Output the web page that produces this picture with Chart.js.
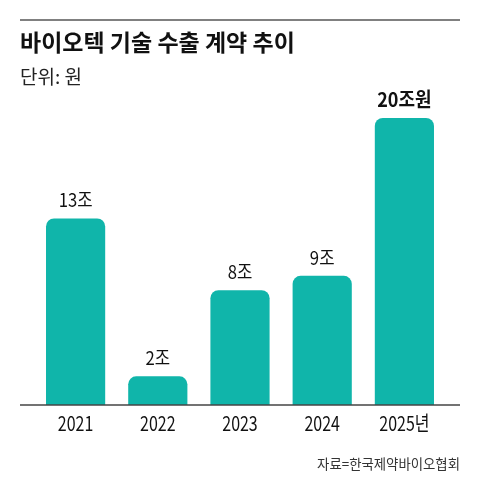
<!DOCTYPE html>
<html><head><meta charset="utf-8">
<script src="https://cdn.jsdelivr.net/npm/chart.js@4/dist/chart.umd.min.js"></script>
<style>html,body{margin:0;padding:0;background:#fff;}#wrap{width:480px;height:490px;position:relative;}</style>
</head><body><div id="wrap"><canvas id="c" width="480" height="490"></canvas></div>
<script>
const categories = ['2021', '2022', '2023', '2024', '2025년'];
const values = [13, 2, 8, 9, 20];
const valueLabels = ['13조', '2조', '8조', '9조', '20조원'];
const boldLabel = [false, false, false, false, true];
const titleText = '바이오텍 기술 수출 계약 추이';
const subtitleText = '단위: 원';
const sourceText = '자료=한국제약바이오협회';

const KR = "'Noto Sans CJK KR', 'Noto Sans', sans-serif";

function condensedText(ctx, text, x, y, sx) {
  ctx.save();
  ctx.translate(x, y);
  ctx.scale(sx, 1);
  ctx.fillText(text, 0, 0);
  ctx.restore();
}

const decor = {
  id: 'decor',
  afterDraw(chart) {
    const ctx = chart.ctx;
    ctx.save();
    ctx.strokeStyle = '#808080'; ctx.lineWidth = 2;
    ctx.beginPath(); ctx.moveTo(20, 20); ctx.lineTo(460, 20); ctx.stroke();
    ctx.fillStyle = '#111';
    ctx.textAlign = 'left'; ctx.textBaseline = 'middle';
    ctx.font = 'bold 23px ' + KR;
    ctx.fillText(titleText, 20, 42.5);
    ctx.fillStyle = '#222';
    ctx.font = '19px ' + KR;
    ctx.fillText(subtitleText, 20, 76.5);
    ctx.textAlign = 'right';
    ctx.font = '13.4px ' + KR;
    ctx.fillStyle = '#333';
    ctx.fillText(sourceText, 460, 463.5);
    const xs = chart.scales.x;
    const y0 = chart.scales.y.getPixelForValue(0);
    ctx.strokeStyle = '#444'; ctx.lineWidth = 1.5;
    ctx.beginPath(); ctx.moveTo(20, y0); ctx.lineTo(460, y0); ctx.stroke();
    // x tick labels (positions from the category scale)
    ctx.textAlign = 'center';
    ctx.fillStyle = '#111';
    ctx.font = '20.5px ' + KR;
    xs.ticks.forEach((t, i) => {
      condensedText(ctx, xs.getLabelForValue(t.value), xs.getPixelForTick(i), y0 + 18, 0.78);
    });
    const meta = chart.getDatasetMeta(0);
    meta.data.forEach((bar, i) => {
      ctx.font = (boldLabel[i] ? 'bold 20px ' : '19px ') + KR;
      condensedText(ctx, valueLabels[i], bar.x, bar.y - 18.5, boldLabel[i] ? 0.9 : 0.88);
    });
    ctx.restore();
  }
};

new Chart(document.getElementById('c'), {
  type: 'bar',
  data: {
    labels: categories,
    datasets: [{
      data: values,
      backgroundColor: '#10b5aa',
      borderRadius: 8,
      borderSkipped: 'start',
      barPercentage: 0.72,
      categoryPercentage: 1
    }]
  },
  options: {
    responsive: false,
    animation: false,
    devicePixelRatio: 1,
    layout: { padding: { top: 118, left: 34.5, right: 34.5, bottom: 0 } },
    plugins: { legend: { display: false }, tooltip: { enabled: false } },
    scales: {
      x: {
        grid: { display: false, drawTicks: false },
        border: { display: false },
        ticks: { display: false },
        afterFit(scale) { scale.height = 85; }
      },
      y: { display: false, min: 0, max: 20 }
    }
  },
  plugins: [decor]
});
</script></body></html>
